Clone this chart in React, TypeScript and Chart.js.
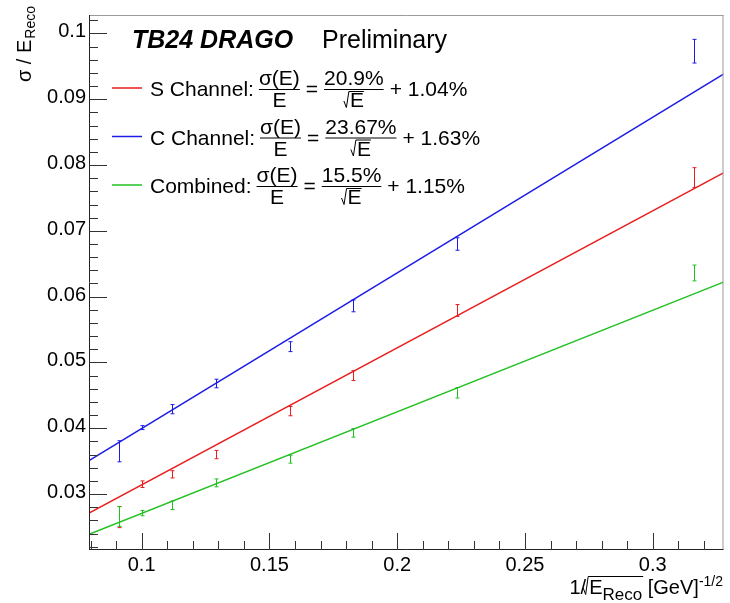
import { useEffect, useRef } from 'react';
import { Chart, registerables } from 'chart.js';

Chart.register(...registerables);

// ---- data ----
const pointX = [0.0913, 0.1, 0.1118, 0.1291, 0.1581, 0.1826, 0.2236, 0.3162];
const sValues = [0.0265, 0.0315, 0.033, 0.036, 0.0426, 0.048, 0.0579, 0.0781];
const sErrors = [0.0016, 0.0005, 0.00055, 0.00063, 0.0007, 0.00075, 0.0009, 0.0015];
const cValues = [0.0365, 0.0401, 0.0429, 0.0468, 0.0524, 0.0586, 0.068, 0.0973];
const cErrors = [0.0016, 0.0003, 0.0007, 0.00065, 0.00075, 0.0009, 0.00095, 0.0018];
const combValues = [0.0266, 0.0271, 0.0283, 0.0317, 0.0353, 0.0393, 0.0454, 0.0636];
const combErrors = [0.0015, 0.0004, 0.00065, 0.0006, 0.0006, 0.00065, 0.0008, 0.0012];

const fitX = [0.0794, 0.3277];
const fitS = [0.0271, 0.0788];
const fitC = [0.0351, 0.0938];
const fitComb = [0.0239, 0.0622];

const xTickValues = [0.1, 0.15, 0.2, 0.25, 0.3];
const xTickLabels = ['0.1', '0.15', '0.2', '0.25', '0.3'];
const yTickValues = [0.03, 0.04, 0.05, 0.06, 0.07, 0.08, 0.09, 0.1];
const yTickLabels = ['0.03', '0.04', '0.05', '0.06', '0.07', '0.08', '0.09', '0.1'];

const legendLabels = ['S Channel:', 'C Channel:', 'Combined:'];
const stochasticTerms = ['20.9%', '23.67%', '15.5%'];
const constantTerms = ['1.04%', '1.63%', '1.15%'];

const X_MIN = 0.0794;
const X_MAX = 0.3277;
const Y_MIN = 0.0215;
const Y_MAX = 0.1028;

const RED = '#e81e1e';
const BLUE = '#1c1ce6';
const GREEN = '#22c022';
const FONT = '"Liberation Sans", Arial, Helvetica, sans-serif';

const toPts = (xs: number[], ys: number[]) => xs.map((x, i) => ({ x, y: ys[i] }));

const overlay = {
  id: 'overlay',
  afterDatasetsDraw(chart: any) {
    const ctx = chart.ctx as CanvasRenderingContext2D;
    const ys = chart.scales.y;
    ctx.save();
    chart.data.datasets.forEach((ds: any, di: number) => {
      if (!ds.errors) return;
      const meta = chart.getDatasetMeta(di);
      meta.data.forEach((pt: any, i: number) => {
        const v = ds.data[i].y;
        const e = ds.errors[i];
        const y1 = ys.getPixelForValue(v + e);
        const y2 = ys.getPixelForValue(v - e);
        const x = Math.round(pt.x) + 0.5;
        ctx.strokeStyle = ds.errColor;
        ctx.lineWidth = 1;
        ctx.beginPath();
        ctx.moveTo(x, y1);
        ctx.lineTo(x, y2);
        ctx.moveTo(x - 2, y1);
        ctx.lineTo(x + 2, y1);
        ctx.moveTo(x - 2, y2);
        ctx.lineTo(x + 2, y2);
        ctx.stroke();
      });
    });
    ctx.restore();
  },
  afterDraw(chart: any) {
    const ctx = chart.ctx as CanvasRenderingContext2D;
    const xs = chart.scales.x;
    const ys = chart.scales.y;
    const { left, right, top, bottom } = chart.chartArea;
    ctx.save();
    // frame
    ctx.lineWidth = 1;
    ctx.strokeStyle = '#9a9a9a';
    ctx.beginPath();
    ctx.moveTo(left, top + 0.5);
    ctx.lineTo(right, top + 0.5);
    ctx.moveTo(right - 0.5, top);
    ctx.lineTo(right - 0.5, bottom);
    ctx.stroke();
    ctx.strokeStyle = '#222';
    ctx.beginPath();
    ctx.moveTo(left + 0.5, top);
    ctx.lineTo(left + 0.5, bottom);
    ctx.moveTo(left, bottom - 0.5);
    ctx.lineTo(right, bottom - 0.5);
    ctx.stroke();
    // ticks (inside the frame, ROOT style)
    ctx.strokeStyle = '#333';
    ctx.beginPath();
    for (let k = 11; k <= 51; k++) {
      const v = k * 0.002;
      const py = Math.round(ys.getPixelForValue(v)) + 0.5;
      const len = k % 5 === 0 ? 18 : 9;
      ctx.moveTo(left, py);
      ctx.lineTo(left + len, py);
    }
    for (let k = 8; k <= 32; k++) {
      const v = k * 0.01;
      const px = Math.round(xs.getPixelForValue(v)) + 0.5;
      const len = k % 5 === 0 ? 17 : 9;
      ctx.moveTo(px, bottom);
      ctx.lineTo(px, bottom - len);
    }
    ctx.stroke();

    ctx.fillStyle = '#000';
    ctx.textBaseline = 'alphabetic';
    ctx.textAlign = 'left';
    // header
    ctx.font = `bold italic 25px ${FONT}`;
    ctx.fillText('TB24 DRAGO', 132, 48);
    ctx.font = `25px ${FONT}`;
    ctx.fillText('Preliminary', 322, 48);

    // legend
    const rowY = [88, 136.5, 185];
    const colors = [RED, BLUE, GREEN];
    const drawRadical = (x0: number, base: number, topY: number, endX: number) => {
      ctx.beginPath();
      ctx.moveTo(x0, base - 6);
      ctx.lineTo(x0 + 2.5, base + 0.5);
      ctx.lineTo(x0 + 5, topY);
      ctx.lineTo(endX, topY);
      ctx.stroke();
    };
    legendLabels.forEach((lab, i) => {
      const y = rowY[i];
      ctx.strokeStyle = colors[i];
      ctx.lineWidth = 1.5;
      ctx.beginPath();
      ctx.moveTo(112, y);
      ctx.lineTo(142, y);
      ctx.stroke();
      ctx.font = `21px ${FONT}`;
      ctx.fillStyle = '#000';
      ctx.textAlign = 'left';
      ctx.fillText(lab, 150, y + 8);
      let x = 150 + ctx.measureText(lab).width + 5;
      // sigma(E)/E
      const num1 = 'σ(E)';
      const w1 = ctx.measureText(num1).width;
      ctx.textAlign = 'center';
      ctx.fillText(num1, x + w1 / 2, y - 3);
      ctx.fillText('E', x + w1 / 2, y + 19);
      ctx.strokeStyle = '#000';
      ctx.lineWidth = 1;
      ctx.beginPath();
      ctx.moveTo(x, y + 1.5);
      ctx.lineTo(x + w1, y + 1.5);
      ctx.stroke();
      x += w1 + 6;
      ctx.textAlign = 'left';
      ctx.fillText('=', x, y + 8);
      x += ctx.measureText('=').width + 6;
      const num2 = stochasticTerms[i];
      const w2 = ctx.measureText(num2).width;
      ctx.textAlign = 'center';
      ctx.fillText(num2, x + w2 / 2, y - 3);
      ctx.beginPath();
      ctx.moveTo(x, y + 1.5);
      ctx.lineTo(x + w2, y + 1.5);
      ctx.stroke();
      const wE = ctx.measureText('E').width;
      const tot = wE + 6;
      const sx = x + w2 / 2 - tot / 2;
      ctx.textAlign = 'left';
      ctx.fillText('E', sx + 6, y + 19);
      drawRadical(sx, y + 19, y + 3.5, sx + 6 + wE);
      x += w2 + 6;
      ctx.fillText('+ ' + constantTerms[i], x, y + 8);
    });

    // y axis title (rotated, right-aligned at top)
    ctx.save();
    ctx.translate(31, 6);
    ctx.rotate(-Math.PI / 2);
    ctx.textAlign = 'right';
    ctx.font = `14px ${FONT}`;
    const wSub = ctx.measureText('Reco').width;
    ctx.fillText('Reco', 0, 4);
    ctx.font = `20px ${FONT}`;
    ctx.fillText('σ / E', -wSub - 1, 0);
    ctx.restore();

    // x axis title (right-aligned at right edge)
    ctx.textAlign = 'left';
    let xr = 723;
    ctx.font = `14px ${FONT}`;
    const wSup = ctx.measureText('-1/2').width;
    xr -= wSup;
    ctx.fillText('-1/2', xr, 586);
    ctx.font = `20px ${FONT}`;
    const wGeV = ctx.measureText(' [GeV]').width;
    xr -= wGeV;
    ctx.fillText(' [GeV]', xr, 594);
    ctx.font = `17px ${FONT}`;
    const wReco = ctx.measureText('Reco').width;
    xr -= wReco;
    ctx.fillText('Reco', xr, 600);
    const recoEnd = xr + wReco;
    ctx.font = `20px ${FONT}`;
    const wE2 = ctx.measureText('E').width;
    xr -= wE2;
    ctx.fillText('E', xr, 594);
    const rx = xr - 6;
    ctx.strokeStyle = '#000';
    ctx.lineWidth = 1;
    drawRadical(rx, 594, 576.5, recoEnd + 1);
    const w1s = ctx.measureText('1/').width;
    ctx.fillText('1/', rx + 3 - w1s, 594);
    ctx.restore();
  },
};

export default function App() {
  const ref = useRef<HTMLCanvasElement | null>(null);
  useEffect(() => {
    document.body.style.margin = '0';
    if (!ref.current) return;
    Chart.defaults.font.family = FONT;
    Chart.defaults.color = '#000';
    const chart = new Chart(ref.current, {
      type: 'scatter',
      data: {
        datasets: [
          { label: 'S fit', type: 'line', data: toPts(fitX, fitS), borderColor: RED, borderWidth: 1.5, pointRadius: 0, showLine: true },
          { label: 'C fit', type: 'line', data: toPts(fitX, fitC), borderColor: BLUE, borderWidth: 1.5, pointRadius: 0, showLine: true },
          { label: 'Combined fit', type: 'line', data: toPts(fitX, fitComb), borderColor: GREEN, borderWidth: 1.5, pointRadius: 0, showLine: true },
          { label: 'S', data: toPts(pointX, sValues), errors: sErrors, errColor: RED, pointRadius: 0, showLine: false } as any,
          { label: 'C', data: toPts(pointX, cValues), errors: cErrors, errColor: BLUE, pointRadius: 0, showLine: false } as any,
          { label: 'Combined', data: toPts(pointX, combValues), errors: combErrors, errColor: GREEN, pointRadius: 0, showLine: false } as any,
        ],
      },
      options: {
        animation: false,
        responsive: false,
        maintainAspectRatio: false,
        layout: { padding: { top: 8, right: 6.5, left: 0, bottom: 0 } },
        plugins: { legend: { display: false }, tooltip: { enabled: false } },
        scales: {
          x: {
            type: 'linear',
            min: X_MIN,
            max: X_MAX,
            grid: { display: false, drawTicks: false },
            border: { display: false },
            afterFit: (s: any) => { s.height = 53; },
            afterBuildTicks: (s: any) => { s.ticks = xTickValues.map((v) => ({ value: v })); },
            ticks: {
              padding: 3,
              font: { size: 20 },
              color: '#000',
              maxRotation: 0,
              autoSkip: false,
              callback: (v: any) => xTickLabels[xTickValues.indexOf(Number(v))] ?? '',
            },
          },
          y: {
            type: 'linear',
            min: Y_MIN,
            max: Y_MAX,
            grid: { display: false, drawTicks: false },
            border: { display: false },
            afterFit: (s: any) => { s.width = 89; },
            afterBuildTicks: (s: any) => { s.ticks = yTickValues.map((v) => ({ value: v })); },
            ticks: {
              padding: 3,
              labelOffset: -1.5,
              font: { size: 20 },
              color: '#000',
              autoSkip: false,
              callback: (v: any) => yTickLabels[yTickValues.indexOf(Number(v))] ?? '',
            },
          },
        },
      },
      plugins: [overlay],
    });
    return () => chart.destroy();
  }, []);
  return (
    <div style={{ width: 730, height: 603, position: 'relative', background: '#fff' }}>
      <canvas ref={ref} width={730} height={603} style={{ display: 'block' }} />
    </div>
  );
}
